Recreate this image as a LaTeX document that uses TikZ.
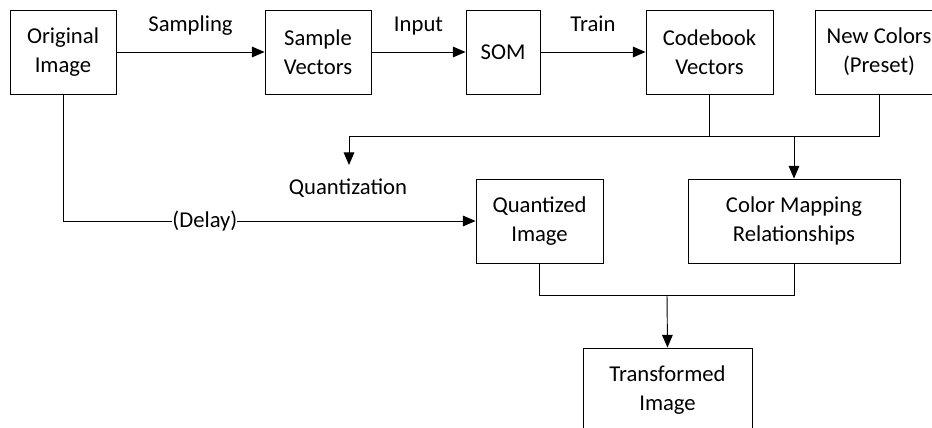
\documentclass[tikz,border=0pt]{standalone}
\usepackage{fontspec}
\setmainfont{Carlito}
\usetikzlibrary{arrows.meta}
\tikzset{box/.style={draw,rectangle,align=center,inner sep=0pt,line width=0.7pt},
         lbl/.style={inner sep=0pt,text height=12pt,text depth=4pt}}
\newcommand{\block}[5]{\node[box,minimum width=#4*0.75pt,minimum height=63pt] (#1) at (#2,#3) {#5};}
\newcommand{\link}[3]{\draw[->] (#1) -- node[lbl,above=11pt] {#3} (#2);}

\begin{document}
\begin{tikzpicture}[x=0.75pt,y=-0.75pt,line width=0.7pt,>={Triangle[length=9.5pt,width=8pt]},
    font=\fontsize{17}{21.5}\selectfont]
    \useasboundingbox (0,0) rectangle (932,428);
    \block{orig}{63}{52}{106}{Original\\Image}   \block{sample}{318}{52}{106}{Sample\\Vectors}
    \block{som}{503}{52}{74}{SOM}   \block{code}{709.5}{52}{127}{Codebook\\Vectors}
    \block{newc}{879}{52}{128}{New Colors\\(Preset)}
    \block{quant}{539.5}{221}{127}{Quantized\\Image}
    \block{cmap}{794}{221}{212}{Color Mapping\\Relationships}
    \block{trans}{667.5}{390}{169}{Transformed\\Image}
    \link{orig}{sample}{Sampling} \link{sample}{som}{Input} \link{som}{code}{Train}

    \coordinate (jq) at (349,136); \coordinate (qend) at (349,165); \coordinate (jt) at (667,295);
    \draw (code.south) -- (code.south |- jq);  \draw (newc.south) |- (jq);
    \draw[->] (cmap.north |- jq) -- (cmap.north); \draw[->] (jq) -- (qend);
    \node (qlab) at (348,188) {Quantization};
    \draw[->] (orig.south) |- node[pos=0.672,fill=white,inner sep=0pt] {(Delay)} (quant.west);
    \draw (quant.south) |- (cmap.south |- jt) -- (cmap.south);
    \draw[->] (jt) -- (trans.north);
\end{tikzpicture}
\end{document}
